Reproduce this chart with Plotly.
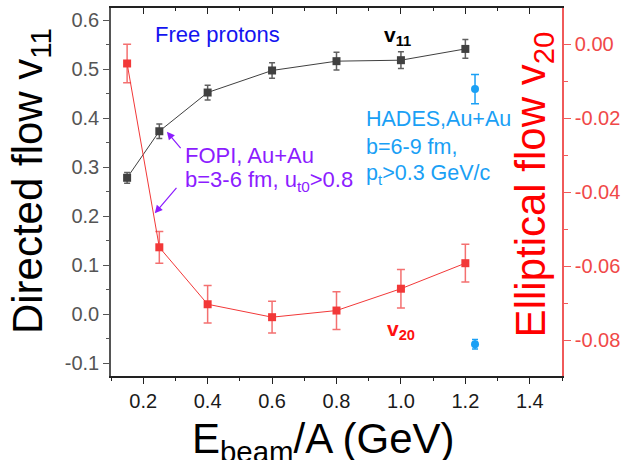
import plotly.graph_objects as go

# ---------------- data ----------------
energy = [0.15, 0.25, 0.4, 0.6, 0.8, 1.0, 1.2]
v11 = [0.278, 0.373, 0.452, 0.497, 0.516, 0.518, 0.541]
v11_err = [0.011, 0.015, 0.015, 0.016, 0.018, 0.017, 0.019]
v20 = [-0.0052, -0.0549, -0.0703, -0.0738, -0.0720, -0.0661, -0.0592]
v20_err = [0.0052, 0.0043, 0.0051, 0.0043, 0.0051, 0.0052, 0.0051]

hades_energy = [1.23]
hades_v11 = [0.459]
hades_v11_err = [0.030]
hades_v20 = [-0.0811]
hades_v20_err = [0.0013]

left_tickvals = [-0.1, 0.0, 0.1, 0.2, 0.3, 0.4, 0.5, 0.6]
left_ticktext = ["-0.1", "0.0", "0.1", "0.2", "0.3", "0.4", "0.5", "0.6"]
right_tickvals = [-0.08, -0.06, -0.04, -0.02, 0.0]
right_ticktext = ["-0.08", "-0.06", "-0.04", "-0.02", "0.00"]
x_tickvals = [0.2, 0.4, 0.6, 0.8, 1.0, 1.2, 1.4]
x_ticktext = ["0.2", "0.4", "0.6", "0.8", "1.0", "1.2", "1.4"]

FONT = "Arial, Liberation Sans, sans-serif"
GRAY = "#404040"
RED = "#f23838"
RED_ERR = "#f47070"
RED_AXIS = "#f05a5a"
BLUE_H = "#1aa0f5"
PURPLE = "#8c1cff"

fig = go.Figure()

fig.add_trace(go.Scatter(
    x=energy, y=v11, mode="lines+markers",
    line=dict(color=GRAY, width=1),
    marker=dict(symbol="square", size=8, color=GRAY),
    error_y=dict(type="data", array=v11_err, color="#606060", thickness=1.5, width=3),
    xaxis="x", yaxis="y", showlegend=False))

fig.add_trace(go.Scatter(
    x=hades_energy, y=hades_v11, mode="markers",
    marker=dict(symbol="circle", size=8, color=BLUE_H),
    error_y=dict(type="data", array=hades_v11_err, color=BLUE_H, thickness=1.5, width=4),
    xaxis="x", yaxis="y", showlegend=False))

fig.add_trace(go.Scatter(
    x=energy, y=v20, mode="lines+markers",
    line=dict(color=RED, width=1),
    marker=dict(symbol="square", size=8, color=RED),
    error_y=dict(type="data", array=v20_err, color=RED_ERR, thickness=1.5, width=4),
    xaxis="x", yaxis="y2", showlegend=False))

fig.add_trace(go.Scatter(
    x=hades_energy, y=hades_v20, mode="markers",
    marker=dict(symbol="circle", size=8, color=BLUE_H),
    error_y=dict(type="data", array=hades_v20_err, color=BLUE_H, thickness=1.5, width=3),
    xaxis="x", yaxis="y2", showlegend=False))

# invisible trace to carry the top mirror axis
fig.add_trace(go.Scatter(
    x=energy, y=v11, mode="markers", marker=dict(opacity=0),
    hoverinfo="skip", xaxis="x2", yaxis="y", showlegend=False))

xr = [0.1, 1.5]
fig.update_layout(
    width=628, height=460,
    margin=dict(l=111, r=60, t=8, b=84),
    paper_bgcolor="white", plot_bgcolor="white",
    font=dict(family=FONT),
    xaxis=dict(
        range=xr, tickmode="array", tickvals=x_tickvals, ticktext=x_ticktext,
        ticks="outside", ticklen=6, tickwidth=1, tickcolor="#222",
        minor=dict(tickmode="linear", tick0=0.1, dtick=0.1, ticks="outside", ticklen=3, tickcolor="#222"),
        showline=True, linecolor="#222", linewidth=1.5,
        showgrid=False, zeroline=False,
        tickfont=dict(size=20, color="#1a1a1a"),
        anchor="y",
    ),
    xaxis2=dict(
        range=xr, overlaying="x", side="top", anchor="y",
        tickmode="linear", tick0=0.2, dtick=0.2,
        ticks="inside", ticklen=6, tickcolor="#222",
        minor=dict(tickmode="linear", tick0=0.1, dtick=0.1, ticks="inside", ticklen=3, tickcolor="#222"),
        showticklabels=False, showline=True, linecolor="#222", linewidth=1.5,
        showgrid=False, zeroline=False,
    ),
    yaxis=dict(
        range=[-0.1265, 0.6245], tickmode="array", tickvals=left_tickvals, ticktext=left_ticktext,
        ticks="outside", ticklen=6, tickcolor="#555",
        minor=dict(tickmode="linear", tick0=0.05, dtick=0.1, ticks="outside", ticklen=3, tickcolor="#555"),
        showline=True, linecolor="#555", linewidth=1.5,
        showgrid=False, zeroline=False,
        tickfont=dict(size=20, color="#555555"),
        anchor="x",
    ),
    yaxis2=dict(
        range=[-0.0897, 0.0098], overlaying="y", side="right", anchor="x",
        tickmode="array", tickvals=right_tickvals, ticktext=right_ticktext,
        ticks="outside", ticklen=7, tickcolor=RED_AXIS,
        minor=dict(tickmode="linear", tick0=-0.01, dtick=0.02, ticks="outside", ticklen=4, tickcolor=RED_AXIS),
        showline=True, linecolor=RED_AXIS, linewidth=1.5,
        showgrid=False, zeroline=False,
        tickfont=dict(size=20, color="#f04848"),
    ),
)

ann = []
# axis titles
ann.append(dict(text="Directed flow v<sub>11</sub>", xref="paper", yref="paper",
                x=(29 - 111) / 457, y=(376 - 181) / 368, textangle=-90,
                showarrow=False, xanchor="center", yanchor="middle",
                font=dict(size=42, color="black")))
ann.append(dict(text="Elliptical flow v<sub>20</sub>", xref="paper", yref="paper",
                x=(539 - 111) / 457, y=(376 - 184) / 368, textangle=-90,
                showarrow=False, xanchor="center", yanchor="middle",
                font=dict(size=42, color="#ff0000")))
ann.append(dict(text="E<sub>beam</sub>/A (GeV)", xref="paper", yref="paper",
                x=(326 - 111) / 457, y=(376 - 441) / 368,
                showarrow=False, xanchor="center", yanchor="middle",
                font=dict(size=42, color="black")))

# text labels (data coords of x / left y)
ann.append(dict(text="Free protons", x=0.2297, y=0.5714, xref="x", yref="y",
                showarrow=False, xanchor="left", yanchor="middle",
                font=dict(size=22, color="#1414f0")))
ann.append(dict(text="<b>v<sub>11</sub></b>", x=0.9398, y=0.567, xref="x", yref="y",
                showarrow=False, xanchor="left", yanchor="middle",
                font=dict(size=21, color="black")))
ann.append(dict(text="<b>v<sub>20</sub></b>", x=0.949, y=-0.0327, xref="x", yref="y",
                showarrow=False, xanchor="left", yanchor="middle",
                font=dict(size=21, color="#ff1010")))
ann.append(dict(text="FOPI, Au+Au", x=0.3246, y=0.3245, xref="x", yref="y",
                showarrow=False, xanchor="left", yanchor="middle",
                font=dict(size=22, color=PURPLE)))
ann.append(dict(text="b=3-6 fm, u<sub>t0</sub>>0.8", x=0.3246, y=0.2714, xref="x", yref="y",
                showarrow=False, xanchor="left", yanchor="middle",
                font=dict(size=22, color=PURPLE)))
ann.append(dict(text="HADES,Au+Au", x=0.8847, y=0.398, xref="x", yref="y",
                showarrow=False, xanchor="left", yanchor="middle",
                font=dict(size=21.5, color=BLUE_H)))
ann.append(dict(text="b=6-9 fm,", x=0.8847, y=0.341, xref="x", yref="y",
                showarrow=False, xanchor="left", yanchor="middle",
                font=dict(size=21.5, color=BLUE_H)))
ann.append(dict(text="p<sub>t</sub>>0.3 GeV/c", x=0.8847, y=0.2857, xref="x", yref="y",
                showarrow=False, xanchor="left", yanchor="middle",
                font=dict(size=21.5, color=BLUE_H)))
# arrows
ann.append(dict(text="", x=0.2735, y=0.372, xref="x", yref="y",
                showarrow=True, ax=15, ay=18, arrowhead=2, arrowsize=1.3,
                arrowwidth=1.2, arrowcolor=PURPLE))
ann.append(dict(text="", x=0.2358, y=0.2055, xref="x", yref="y",
                showarrow=True, ax=23, ay=-27, arrowhead=2, arrowsize=1.3,
                arrowwidth=1.2, arrowcolor=PURPLE))

fig.update_layout(annotations=ann)
fig.write_html("out.html")
